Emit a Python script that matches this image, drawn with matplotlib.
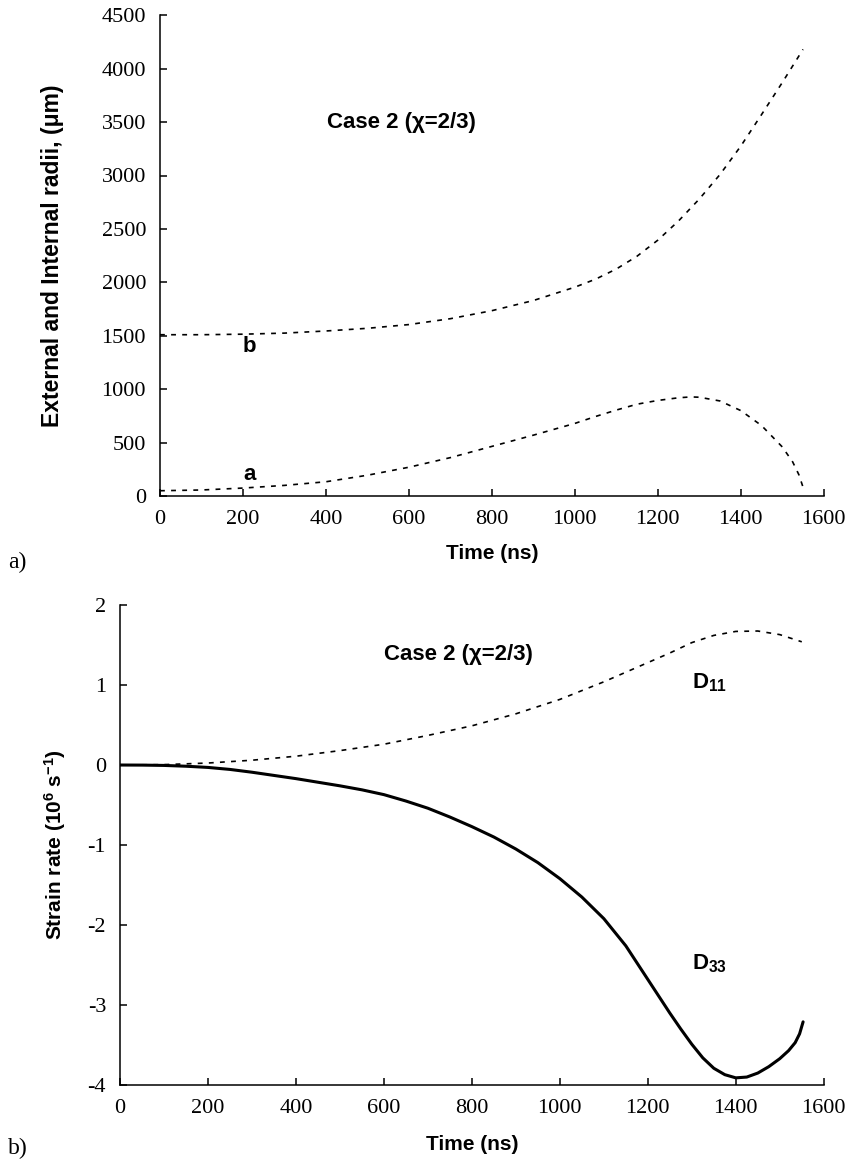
import numpy as np
import matplotlib
matplotlib.use('Agg')
import matplotlib.pyplot as plt

# ---- panel a: radii (um) vs time (ns) ----
t_b = [0, 100, 200, 300, 400, 500, 600, 700, 800, 900, 1000, 1050, 1100,
       1150, 1200, 1250, 1300, 1350, 1400, 1450, 1500, 1550]
r_b = [1510, 1510, 1515, 1525, 1545, 1570, 1605, 1660, 1735, 1830, 1955, 2030, 2125,
       2245, 2395, 2575, 2780, 3010, 3275, 3570, 3870, 4180]

t_a = [0, 100, 200, 300, 400, 500, 600, 700, 800, 900, 1000, 1050, 1100,
       1150, 1200, 1250, 1280, 1300, 1350, 1400, 1450, 1500, 1525, 1540, 1552]
r_a = [50, 57, 75, 100, 134, 195, 270, 360, 465, 570, 680, 745, 805,
       860, 895, 920, 928, 925, 890, 800, 660, 460, 320, 200, 60]

# ---- panel b: strain rate (1e6 1/s) vs time (ns) ----
t_d11 = [0, 100, 200, 300, 400, 500, 600, 700, 800, 900, 1000, 1100,
         1200, 1250, 1300, 1350, 1400, 1450, 1500, 1550]
d11 = [0, 0.005, 0.025, 0.06, 0.11, 0.18, 0.26, 0.37, 0.49, 0.64, 0.82, 1.04,
       1.28, 1.40, 1.53, 1.62, 1.67, 1.675, 1.63, 1.54]

t_d33 = [0, 50, 100, 150, 200, 250, 300, 350, 400, 450, 500, 550, 600, 650,
         700, 750, 800, 850, 900, 950, 1000, 1050, 1100, 1150, 1200, 1250,
         1275, 1300, 1325, 1350, 1375, 1400, 1425, 1450, 1475, 1500, 1520,
         1535, 1545, 1553]
d33 = [0, -0.001, -0.005, -0.015, -0.03, -0.055, -0.09, -0.13, -0.17, -0.215,
       -0.26, -0.31, -0.37, -0.45, -0.54, -0.65, -0.77, -0.90, -1.05, -1.22,
       -1.42, -1.65, -1.92, -2.26, -2.68, -3.10, -3.30, -3.49, -3.66, -3.79,
       -3.87, -3.91, -3.90, -3.85, -3.77, -3.67, -3.57, -3.47, -3.36, -3.21]

plt.rcParams['font.family'] = ['Liberation Serif', 'DejaVu Serif']
plt.rcParams['axes.unicode_minus'] = False
plt.rcParams['lines.scale_dashes'] = False
plt.rcParams['mathtext.fontset'] = 'custom'
plt.rcParams['mathtext.bf'] = 'Liberation Sans:bold'
plt.rcParams['mathtext.rm'] = 'Liberation Sans:bold'
plt.rcParams['mathtext.default'] = 'bf'

SANS = ['Liberation Sans', 'DejaVu Sans']
DASH = (0, (3.5, 4.5))


def style_axes(ax):
    ax.spines['top'].set_visible(False)
    ax.spines['right'].set_visible(False)
    for s in ('left', 'bottom'):
        ax.spines[s].set_linewidth(1.1)
    ax.tick_params(direction='in', length=4.8, width=1.1, labelsize=16, pad=10)


fig = plt.figure(figsize=(8.51, 11.70), dpi=100)

# panel a
ax1 = fig.add_axes([0.188, 0.576, 0.780, 0.411])
ax1.plot(t_b, r_b, color='black', lw=1.2, ls=DASH)
ax1.plot(t_a, r_a, color='black', lw=1.2, ls=DASH)
ax1.set_xlim(0, 1600)
ax1.set_ylim(0, 4500)
ax1.set_xticks(np.arange(0, 1601, 200))
ax1.set_yticks(np.arange(0, 4501, 500))
style_axes(ax1)
ax1.set_xlabel('Time (ns)', family=SANS, fontweight='bold', fontsize=15)
ax1.set_ylabel('External and Internal radii, (\u03bcm)', family=SANS,
               fontweight='bold', fontsize=16.5)
ax1.xaxis.set_label_coords(0.5, -0.100)
ax1.yaxis.set_label_coords(-0.145, 0.5)
ax1.text(402, 3500, 'Case 2 (\u03c7=2/3)', family=SANS, fontweight='bold',
         fontsize=16, ha='left', va='center')
ax1.text(200, 1400, 'b', family=SANS, fontweight='bold', fontsize=16,
         ha='left', va='center')
ax1.text(200, 200, 'a', family=SANS, fontweight='bold', fontsize=16,
         ha='left', va='center')
fig.text(8 / 851, 1 - 562 / 1170, 'a)', fontsize=17, ha='left', va='center')

# panel b
ax2 = fig.add_axes([0.141, 0.0726, 0.827, 0.4103])
ax2.plot(t_d11, d11, color='black', lw=1.2, ls=DASH)
ax2.plot(t_d33, d33, color='black', lw=2.2, solid_capstyle='round')
ax2.set_xlim(0, 1600)
ax2.set_ylim(-4, 2)
ax2.set_xticks(np.arange(0, 1601, 200))
ax2.set_yticks(np.arange(-4, 2.1, 1))
style_axes(ax2)
ax2.set_xlabel('Time (ns)', family=SANS, fontweight='bold', fontsize=15)
ax2.set_ylabel(r'Strain rate (10$^{6}$ s$^{-1}$)', family=SANS,
               fontweight='bold', fontsize=15)
ax2.xaxis.set_label_coords(0.5, -0.104)
ax2.yaxis.set_label_coords(-0.074, 0.5)
ax2.text(600, 1.38, 'Case 2 (\u03c7=2/3)', family=SANS, fontweight='bold',
         fontsize=16, ha='left', va='center')
ax2.text(1300, 1.03, r'D$_{11}$', family=SANS, fontweight='bold',
         fontsize=16, ha='left', va='center')
ax2.text(1300, -2.48, r'D$_{33}$', family=SANS, fontweight='bold',
         fontsize=16, ha='left', va='center')
fig.text(8 / 851, 1 - 1148 / 1170, 'b)', fontsize=17, ha='left', va='center')

fig.savefig('out.png', dpi=100)
print("Saved: out.png")
